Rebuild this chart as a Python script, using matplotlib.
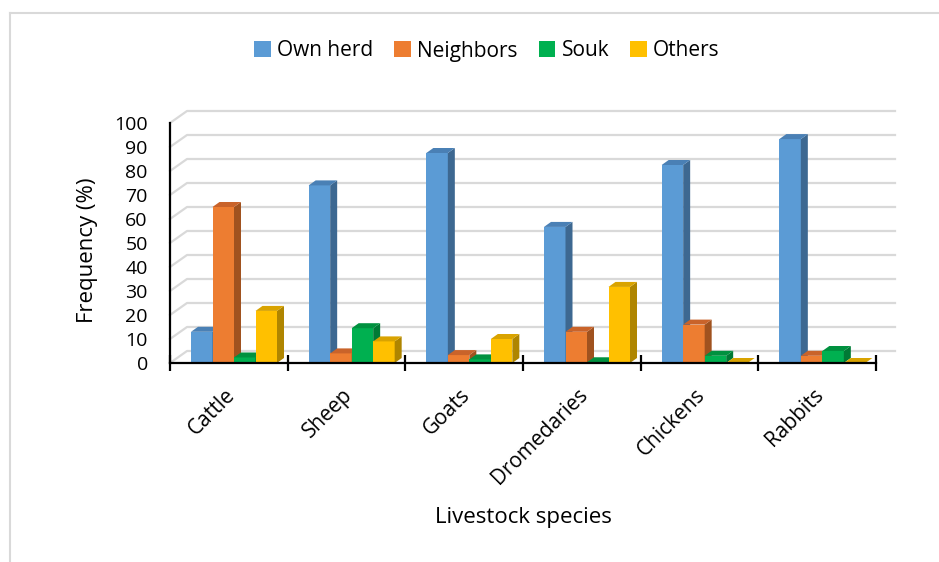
import numpy as np
import matplotlib
matplotlib.use("Agg")
import matplotlib.pyplot as plt
from matplotlib.patches import Polygon, Rectangle
from matplotlib.lines import Line2D

plt.rcParams['font.family'] = ['Open Sans', 'DejaVu Sans']

# Data
species = ["Cattle", "Sheep", "Goats", "Dromedaries", "Chickens", "Rabbits"]
own_herd = [13, 74, 87.5, 56.7, 82.5, 93.3]
neighbors = [65, 4, 3.3, 13, 16, 3]
souk = [2.3, 14.5, 1.5, 0.3, 3, 5]
others = [21.7, 9, 10, 31.7, 0, 0]
series_names = ["Own herd", "Neighbors", "Souk", "Others"]
yticks = list(range(0, 101, 10))

# front / top / side colours for each series
front_cols = ["#5B9BD5", "#ED7D31", "#00B050", "#FFC000"]
top_cols = ["#4A80B5", "#C9632A", "#00913F", "#D9A300"]
side_cols = ["#3D6891", "#A0521F", "#007A35", "#AF8500"]

W, H = 939, 562
fig = plt.figure(figsize=(W / 100, H / 100), dpi=100)

# axes box = front plane of the 3d chart (pixel coords from the reference)
x0, x1, y0, y1 = 170, 876, 363, 123
ax = fig.add_axes([x0 / W, (H - y0) / H, (x1 - x0) / W, (y0 - y1) / H])
ax.set_xlim(0, 6)
ax.set_ylim(0, 100)

PX = (x1 - x0) / 6.0     # pixels per category
PY = (y0 - y1) / 100.0   # pixels per percent

# depth offsets (wall and bars) in data units
WX, WY = 17 / PX, 12 / PY
BX, BY = 7 / PX, 5 / PY

grid_c = "#D9D9D9"
for v in yticks:
    ax.add_line(Line2D([0, WX, 6 + WX + 2 / PX], [v, v + WY, v + WY],
                       color=grid_c, lw=1.6, clip_on=False, zorder=1))

bw = 21.5 / PX
start = 21 / PX
data = [own_herd, neighbors, souk, others]
for i in range(len(species)):
    for s in range(4):
        h = data[s][i]
        x = i + start + s * bw
        ax.add_patch(Rectangle((x, 0), bw, h, facecolor=front_cols[s],
                               edgecolor="none", clip_on=False, zorder=3))
        ax.add_patch(Polygon([(x + bw, 0), (x + bw + BX, BY), (x + bw + BX, h + BY), (x + bw, h)],
                             closed=True, facecolor=side_cols[s], edgecolor="none",
                             clip_on=False, zorder=3))
        ax.add_patch(Polygon([(x, h), (x + bw, h), (x + bw + BX, h + BY), (x + BX, h + BY)],
                             closed=True, facecolor=top_cols[s], edgecolor="none",
                             clip_on=False, zorder=3))

# axes lines and ticks
for sp in ["top", "right"]:
    ax.spines[sp].set_visible(False)
for sp in ["left", "bottom"]:
    ax.spines[sp].set_color("black")
    ax.spines[sp].set_linewidth(1.6)
    ax.spines[sp].set_zorder(5)
ax.set_yticks(yticks)
ax.set_yticklabels([str(t) for t in yticks], fontsize=14)
ax.tick_params(axis="y", length=0, pad=16)
ax.set_xticks(np.arange(0, 7))
ax.set_xticklabels([])
ax.tick_params(axis="x", direction="inout", length=11, width=1.6)

for i, name in enumerate(species):
    ax.text(i + 0.5 + 3 / PX, -12, name, rotation=45, rotation_mode="anchor",
            ha="right", va="center", fontsize=15, clip_on=False)

fig.text(523 / W, 1 - 518 / H, "Livestock species", ha="center", va="center", fontsize=16)
fig.text(88 / W, 1 - 250 / H, "Frequency (%)", ha="center", va="center",
         rotation=90, fontsize=16)

handles = [Rectangle((0, 0), 1, 1, facecolor=c, edgecolor="none") for c in front_cols]
fig.legend(handles, series_names, loc="center", bbox_to_anchor=(487 / W, 1 - 51 / H),
           ncol=4, frameon=False, fontsize=15, handlelength=0.8, handleheight=0.8,
           handletextpad=0.3, columnspacing=1.0, borderpad=0)

# light outer border (left and top edges)
fig.add_artist(Line2D([9.5 / W, 9.5 / W], [0, 1 - 13 / H], color=grid_c, lw=1.5))
fig.add_artist(Line2D([9.5 / W, 1], [1 - 13 / H, 1 - 13 / H], color=grid_c, lw=1.5))

fig.savefig("out.png", dpi=100)
